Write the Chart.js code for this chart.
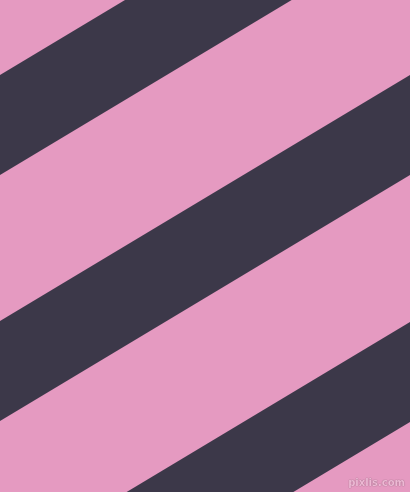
<!DOCTYPE html>
<html>
<head>
<meta charset="utf-8">
<script src="https://cdn.jsdelivr.net/npm/chart.js@4/dist/chart.umd.min.js"></script>
<style>
  html, body { margin: 0; padding: 0; background: #e59ac1; overflow: hidden; }
  #wrap { position: relative; width: 410px; height: 492px; }
  #mark {
    position: absolute; right: 5px; bottom: 4px;
    font-family: "DejaVu Sans", sans-serif; font-size: 10px; font-weight: bold;
    color: #eeb8d4; text-shadow: 0 0 1px #9a6f86, 0 0 1px #9a6f86;
  }
</style>
</head>
<body>
<div id="wrap">
  <canvas id="stripes" width="410" height="492"></canvas>
  <span id="mark">pixlis.com</span>
</div>
<script>
    // edges of each dark band, y read at left (x=0) and right (x=410) side
    var edgeX = [0, 410];
    var topLeft = [75, 321, 568];
    var topRight = [-171, 75, 322];
    var bottomLeft = [175, 421, 668];
    var bottomRight = [-71, 175, 422];

    var bandColor = '#3c3849';

    var datasets = [];
    for (var i = 0; i < topLeft.length; i++) {
        // top edge fills down to the next dataset (the bottom edge)
        datasets.push({
            data: [{ x: edgeX[0], y: topLeft[i] }, { x: edgeX[1], y: topRight[i] }],
            borderWidth: 0,
            pointRadius: 0,
            backgroundColor: bandColor,
            fill: '+1'
        });
        datasets.push({
            data: [{ x: edgeX[0], y: bottomLeft[i] }, { x: edgeX[1], y: bottomRight[i] }],
            borderWidth: 0,
            pointRadius: 0,
            fill: false
        });
    }

    var ctx = document.getElementById('stripes').getContext('2d');
    var chart = new Chart(ctx, {
        type: 'line',
        data: { datasets: datasets },
        options: {
            responsive: false,
            maintainAspectRatio: false,
            animation: false,
            layout: { padding: 0 },
            scales: {
                x: { type: 'linear', min: 0, max: 410, display: false },
                y: { type: 'linear', min: 0, max: 492, reverse: true, display: false }
            },
            plugins: {
                legend: { display: false },
                tooltip: { enabled: false }
            }
        }
    });
</script>
</body>
</html>
